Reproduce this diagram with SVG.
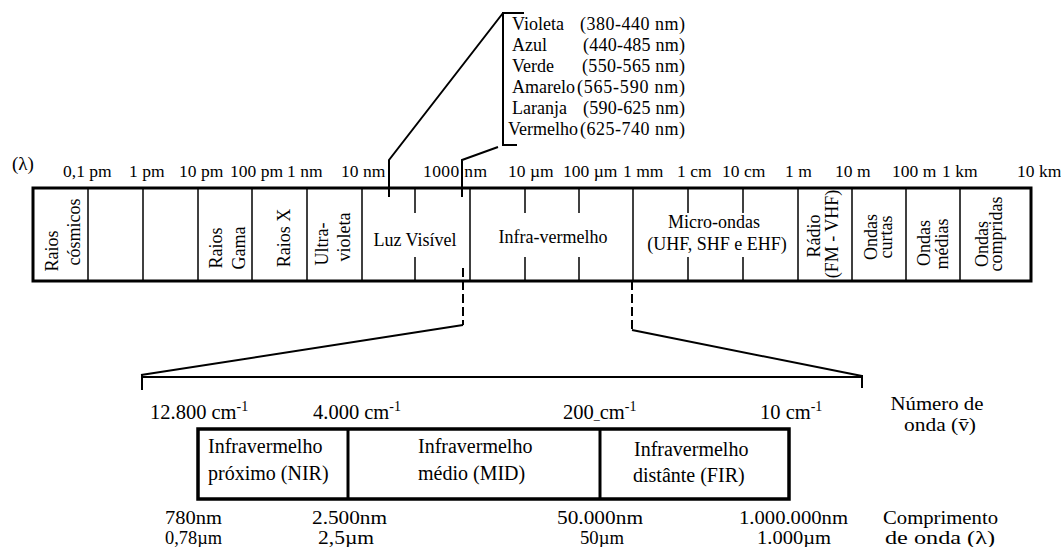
<svg xmlns="http://www.w3.org/2000/svg" width="1061" height="547" viewBox="0 0 1061 547" font-family="'Liberation Serif', 'DejaVu Serif', serif">
<style>
text{font-family:'Liberation Serif','DejaVu Serif',serif;fill:#000}
.sc{font-size:17.5px}
.lg{font-size:18px}
.in{font-size:18px}
.bt{font-size:20px}
.wn{font-size:20.5px}
.wl{font-size:18px}
.ln{stroke:#000;fill:none;stroke-width:2}
.dv{stroke:#000;stroke-width:1.5}
.tk{stroke:#000;stroke-width:1.5}
.da{stroke:#000;fill:none;stroke-width:2;stroke-dasharray:9 4}
.sup{font-size:14px}
</style>
<rect width="1061" height="547" fill="#fff"/>

<g id="scale">
<text class="sc" x="12" y="170" style="font-size:19px">(λ)</text>
<text class="sc" x="63" y="177">0,1 pm</text>
<text class="sc" x="129" y="177">1 pm</text>
<text class="sc" x="179" y="177">10 pm</text>
<text class="sc" x="230" y="177">100 pm</text>
<text class="sc" x="287" y="177">1 nm</text>
<text class="sc" x="341" y="177">10 nm</text>
<text class="sc" x="423" y="177" textLength="64" lengthAdjust="spacing">1000 nm</text>
<text class="sc" x="508" y="177">10 µm</text>
<text class="sc" x="563" y="177">100 µm</text>
<text class="sc" x="623" y="177">1 mm</text>
<text class="sc" x="677" y="177">1 cm</text>
<text class="sc" x="722" y="177">10 cm</text>
<text class="sc" x="785" y="177">1 m</text>
<text class="sc" x="835" y="177">10 m</text>
<text class="sc" x="892" y="177">100 m</text>
<text class="sc" x="942" y="177">1 km</text>
<text class="sc" x="1017" y="177">10 km</text>
</g>

<g id="spectrum-bar">
<rect x="33" y="188" width="998" height="93" fill="none" stroke="#000" stroke-width="3"/>
<g class="dv">
<line x1="88" y1="188" x2="88" y2="281"/>
<line x1="143" y1="188" x2="143" y2="281"/>
<line x1="198" y1="188" x2="198" y2="281"/>
<line x1="252" y1="188" x2="252" y2="281"/>
<line x1="307" y1="188" x2="307" y2="281"/>
<line x1="362" y1="188" x2="362" y2="281"/>
<line x1="470" y1="188" x2="470" y2="281"/>
<line x1="633" y1="188" x2="633" y2="281"/>
<line x1="798" y1="188" x2="798" y2="281"/>
<line x1="852" y1="188" x2="852" y2="281"/>
<line x1="906" y1="188" x2="906" y2="281"/>
<line x1="960" y1="188" x2="960" y2="281"/>
</g>
<g class="tk">
<line x1="415" y1="188" x2="415" y2="213"/><line x1="415" y1="257" x2="415" y2="281"/>
<line x1="525" y1="188" x2="525" y2="213"/><line x1="525" y1="257" x2="525" y2="281"/>
<line x1="579" y1="188" x2="579" y2="213"/><line x1="579" y1="257" x2="579" y2="281"/>
<line x1="688" y1="188" x2="688" y2="213"/><line x1="688" y1="257" x2="688" y2="281"/>
<line x1="743" y1="188" x2="743" y2="213"/><line x1="743" y1="257" x2="743" y2="281"/>
</g>
</g>

<g id="cell-raios-cosmicos">
<text class="in" text-anchor="middle" transform="translate(58,251) rotate(-90)">Raios</text>
<text class="in" text-anchor="middle" transform="translate(80,232) rotate(-90)">cósmicos</text>
</g>
<g id="cell-raios-gama">
<text class="in" text-anchor="middle" transform="translate(222,248) rotate(-90)">Raios</text>
<text class="in" text-anchor="middle" transform="translate(245,248) rotate(-90)">Gama</text>
</g>
<g id="cell-raios-x">
<text class="in" text-anchor="middle" transform="translate(290,238) rotate(-90)">Raios X</text>
</g>
<g id="cell-ultravioleta">
<text class="in" text-anchor="middle" transform="translate(328,244) rotate(-90)">Ultra-</text>
<text class="in" text-anchor="middle" transform="translate(350,237) rotate(-90)">violeta</text>
</g>
<g id="cell-luz-visivel">
<text class="in" text-anchor="middle" x="415" y="246">Luz Visível</text>
</g>
<g id="cell-infravermelho">
<text class="in" text-anchor="middle" x="553" y="243">Infra-vermelho</text>
</g>
<g id="cell-micro-ondas">
<text class="in" text-anchor="middle" x="714" y="228">Micro-ondas</text>
<text class="in" text-anchor="middle" x="717" y="250">(UHF, SHF e EHF)</text>
</g>
<g id="cell-radio">
<text class="in" text-anchor="middle" transform="translate(820,236) rotate(-90)">Rádio</text>
<text class="in" text-anchor="middle" transform="translate(838,234) rotate(-90)">(FM - VHF)</text>
</g>
<g id="cell-ondas-curtas">
<text class="in" text-anchor="middle" transform="translate(877,237) rotate(-90)">Ondas</text>
<text class="in" text-anchor="middle" transform="translate(892,237) rotate(-90)">curtas</text>
</g>
<g id="cell-ondas-medias">
<text class="in" text-anchor="middle" transform="translate(930,243) rotate(-90)">Ondas</text>
<text class="in" text-anchor="middle" transform="translate(948,244) rotate(-90)">médias</text>
</g>
<g id="cell-ondas-compridas">
<text class="in" text-anchor="middle" transform="translate(988,244) rotate(-90)">Ondas</text>
<text class="in" text-anchor="middle" transform="translate(1002,234) rotate(-90)">compridas</text>
</g>

<g id="legend-visivel">
<text class="lg" x="512" y="30">Violeta</text><text class="lg" x="685" y="30" text-anchor="end" textLength="105">(380-440 nm)</text>
<text class="lg" x="512" y="51">Azul</text><text class="lg" x="685" y="51" text-anchor="end" textLength="102">(440-485 nm)</text>
<text class="lg" x="512" y="72">Verde</text><text class="lg" x="685" y="72" text-anchor="end" textLength="103">(550-565 nm)</text>
<text class="lg" x="512" y="93">Amarelo</text><text class="lg" x="685" y="93" text-anchor="end" textLength="108">(565-590 nm)</text>
<text class="lg" x="512" y="114">Laranja</text><text class="lg" x="685" y="114" text-anchor="end" textLength="102">(590-625 nm)</text>
<text class="lg" x="508" y="135">Vermelho</text><text class="lg" x="685" y="135" text-anchor="end" textLength="105">(625-740 nm)</text>
</g>

<g id="connectors">
<path class="ln" d="M524,13 H503 V145 H517" stroke-width="2.5"/>
<path class="ln" d="M503,13 L389,160 V197"/>
<path class="ln" d="M498,147 L462,160 V197"/>
<path class="da" d="M463,268 V325"/>
<path class="da" d="M632,281 V330"/>
<path class="ln" d="M463,325 L141,375"/>
<path class="ln" d="M632,330 L862,376"/>
<path class="ln" d="M141,377 H862" stroke-width="1.5"/>
<path class="ln" d="M142,375 V390" stroke-width="2.5"/>
<path class="ln" d="M862,375 V388" stroke-width="2.5"/>
</g>

<g id="wavenumbers">
<text class="wn" x="150" y="419">12.800 cm<tspan class="sup" dy="-8">-1</tspan></text>
<text class="wn" x="313" y="419">4.000 cm<tspan class="sup" dy="-8">-1</tspan></text>
<text class="wn" x="563" y="419">200<tspan style="font-size:12px">_</tspan>cm<tspan class="sup" dy="-8">-1</tspan></text>
<text class="wn" x="760" y="419">10 cm<tspan class="sup" dy="-8">-1</tspan></text>
<text class="wl" text-anchor="middle" x="937" y="410" textLength="93" lengthAdjust="spacingAndGlyphs">Número de</text>
<text class="wl" text-anchor="middle" x="940" y="431" textLength="72" lengthAdjust="spacingAndGlyphs">onda (v̄)</text>
</g>

<g id="ir-box">
<rect x="198" y="429" width="591" height="70" fill="none" stroke="#000" stroke-width="3.5"/>
<line x1="348" y1="429" x2="348" y2="499" stroke="#000" stroke-width="3"/>
<line x1="600" y1="429" x2="600" y2="499" stroke="#000" stroke-width="3"/>
</g>
<g id="nir">
<text class="bt" x="208" y="453">Infravermelho</text>
<text class="bt" x="208" y="480">próximo (NIR)</text>
</g>
<g id="mid">
<text class="bt" x="418" y="453">Infravermelho</text>
<text class="bt" x="418" y="480">médio (MID)</text>
</g>
<g id="fir">
<text class="bt" x="634" y="456">Infravermelho</text>
<text class="bt" x="633" y="482">distânte  (FIR)</text>
</g>

<g id="wavelengths">
<text class="wl" x="165" y="524" textLength="57" lengthAdjust="spacingAndGlyphs">780nm</text>
<text class="wl" x="165" y="544" textLength="57" lengthAdjust="spacingAndGlyphs">0,78µm</text>
<text class="wl" x="312" y="524" textLength="75" lengthAdjust="spacingAndGlyphs">2.500nm</text>
<text class="wl" x="318" y="544" textLength="56" lengthAdjust="spacingAndGlyphs">2,5µm</text>
<text class="wl" x="557" y="524" textLength="86" lengthAdjust="spacingAndGlyphs">50.000nm</text>
<text class="wl" x="580" y="544" textLength="44" lengthAdjust="spacingAndGlyphs">50µm</text>
<text class="wl" x="739" y="524" textLength="109" lengthAdjust="spacingAndGlyphs">1.000.000nm</text>
<text class="wl" x="757" y="544" textLength="74" lengthAdjust="spacingAndGlyphs">1.000µm</text>
<text class="wl" x="883" y="524" textLength="115" lengthAdjust="spacingAndGlyphs">Comprimento</text>
<text class="wl" x="885" y="544" textLength="110" lengthAdjust="spacingAndGlyphs">de onda (λ)</text>
</g>
</svg>
